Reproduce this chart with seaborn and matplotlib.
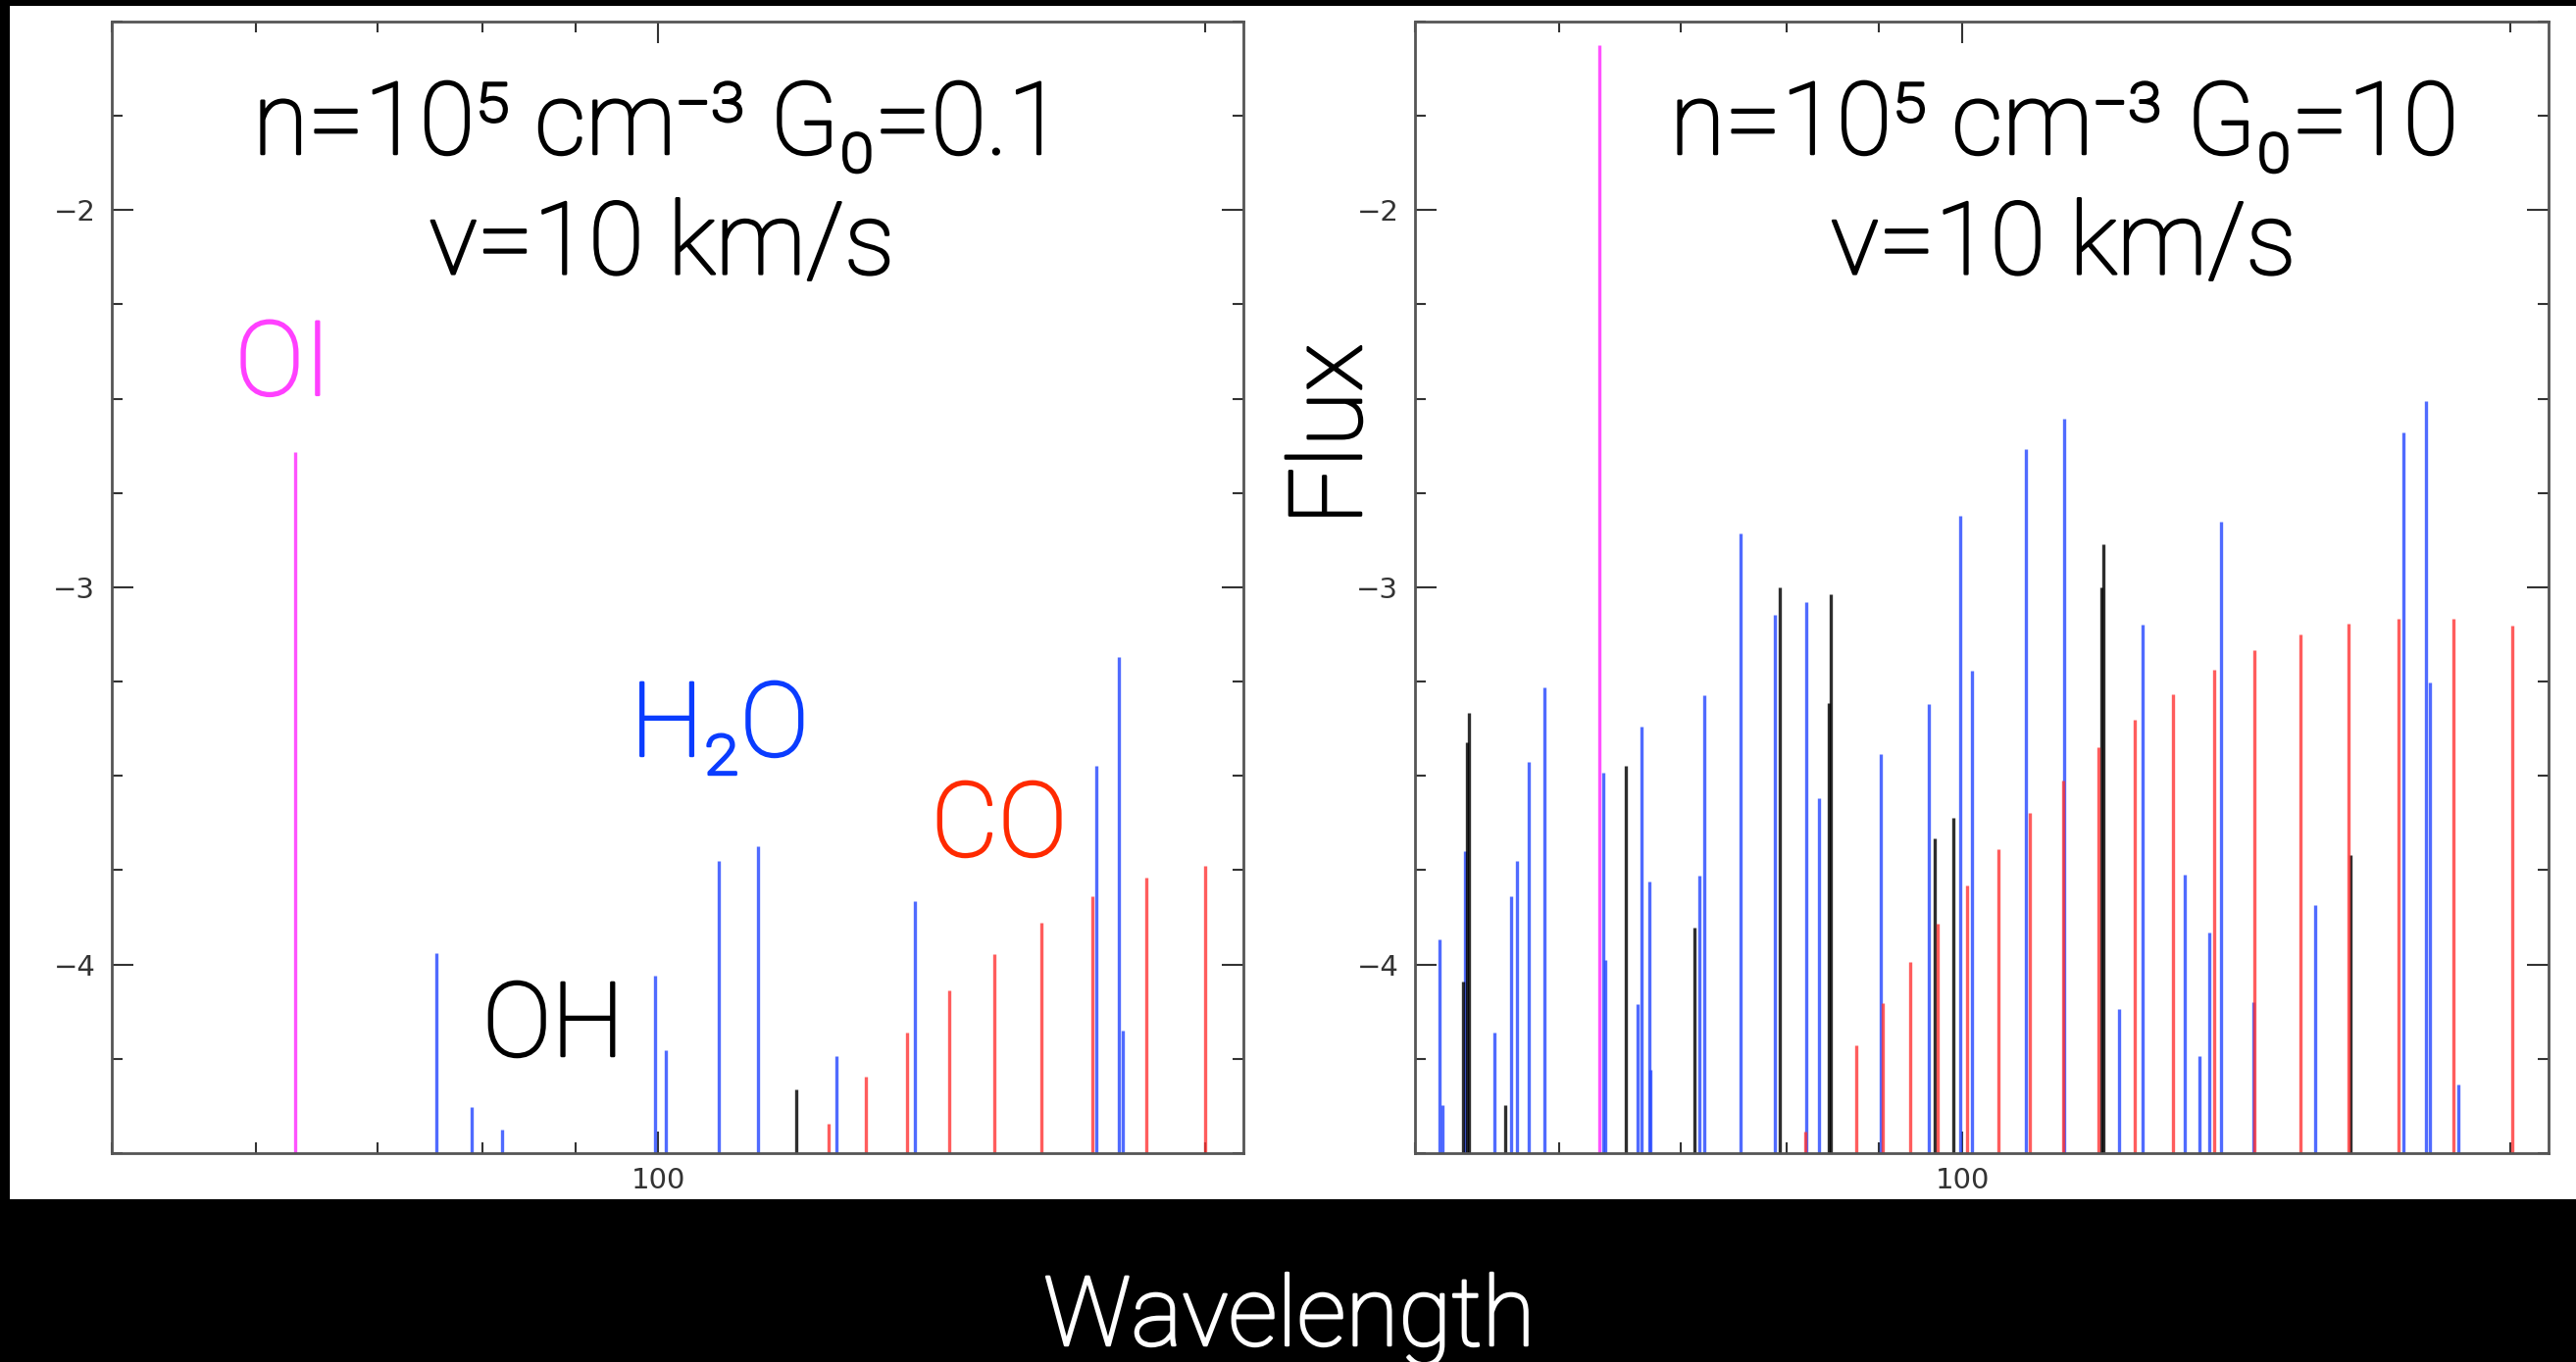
import numpy as np
import pandas as pd
import matplotlib
matplotlib.use("Agg")
import matplotlib.pyplot as plt
import matplotlib.patheffects as pe
import seaborn as sns
from matplotlib.patches import Rectangle
from matplotlib.ticker import FixedLocator, MultipleLocator, FixedFormatter, NullFormatter

# ---------------- data (wavelength in micron, log10 line flux) ----------------
# Left panel: n=1e5 cm-3, G0=0.1, v=10 km/s
left_oi_lam = [63.1]
left_oi_flux = [-2.642]
left_h2o_lam = [75.5, 78.9, 82.0, 99.6, 101.0, 108.0, 113.5, 125.3, 138.4, 174.3, 179.4, 180.2]
left_h2o_flux = [-3.969, -4.377, -4.437, -4.029, -4.228, -3.726, -3.687, -4.243, -3.832, -3.472, -3.185, -4.176]
left_oh_lam = [119.1]
left_oh_flux = [-4.330]
left_co_lam = [124.1, 130.1, 137.1, 144.6, 153.1, 162.5, 173.4, 185.7, 200.0]
left_co_flux = [-4.423, -4.298, -4.180, -4.068, -3.973, -3.890, -3.818, -3.770, -3.739]

# Right panel: n=1e5 cm-3, G0=10, v=10 km/s
right_oi_lam = [63.15]
right_oi_flux = [-1.562]
right_h2o_lam = [51.60, 51.77, 53.24, 55.26, 56.49, 56.89, 57.77, 58.91, 63.46, 63.59, 66.27, 66.60,
                 67.26, 67.37, 71.70, 72.13, 75.5, 78.82, 82.10, 83.40, 90.15, 95.79, 99.72, 101.16,
                 108.29, 113.70, 121.97, 125.64, 132.56, 135.05, 136.61, 138.70, 144.6, 156.35,
                 174.83, 179.82, 180.69, 187.27]
right_h2o_flux = [-3.934, -4.372, -3.70, -4.180, -3.818, -3.726, -3.463, -3.264, -3.492, -3.987, -4.104, -3.370,
                  -3.780, -4.28, -3.765, -3.286, -2.857, -3.074, -3.040, -3.558, -3.443, -3.309, -2.809, -3.222,
                  -2.633, -2.553, -4.118, -3.098, -3.761, -4.242, -3.914, -2.825, -4.10, -3.842,
                  -2.590, -2.505, -3.251, -4.319]
right_oh_lam = [53.13, 53.40, 53.53, 56.08, 65.30, 71.25, 79.37, 84.45, 84.62, 96.58, 98.89, 119.2, 119.49, 163.42]
right_oh_flux = [-4.044, -3.411, -3.334, -4.372, -3.472, -3.902, -3.001, -3.306, -3.017, -3.665, -3.612, -3.00, -2.886, -3.709]
right_co_lam = [81.95, 87.37, 90.39, 93.54, 96.87, 100.53, 104.65, 108.87, 113.6, 118.81, 124.35, 130.49,
                137.46, 144.74, 153.46, 162.93, 173.75, 186.20, 200.45]
right_co_flux = [-4.444, -4.213, -4.103, -3.994, -3.891, -3.790, -3.694, -3.597, -3.511, -3.424, -3.351, -3.284,
                 -3.218, -3.166, -3.126, -3.097, -3.084, -3.084, -3.101]

species_order = ["H2O", "OH", "CO", "OI"]
x_major = [100]
x_major_labels = ["100"]
x_minor = [50, 60, 70, 80, 90, 200]
y_major = [-4, -3, -2]

left_title = ["n=10\u2075 cm\u207b\u00b3 G\u2080=0.1", "v=10 km/s"]
right_title = ["n=10\u2075 cm\u207b\u00b3 G\u2080=10", "v=10 km/s"]

# ---------------- style ----------------
sns.set_theme(style="ticks")
plt.rcParams["font.family"] = ["Roboto", "DejaVu Sans"]

W, H = 2627, 1389
XMIN, XMAX = 50, 210
YMIN, YMAX = -4.5, -1.5

palette = {"H2O": "#2a4bff", "OH": "#000000", "CO": "#ff3030", "OI": "#ff40ff"}
alphas = {"H2O": 0.82, "OH": 0.82, "CO": 0.78, "OI": 0.9}

fig = plt.figure(figsize=(W / 100, H / 100), dpi=100, facecolor="black")
fig.add_artist(Rectangle((10 / W, 1 - 1223 / H), 1 - 10 / W, (1223 - 6) / H,
                         transform=fig.transFigure, facecolor="white", edgecolor="none", zorder=-5))

ax_l = fig.add_axes([114 / W, 1 - 1176 / H, 1154 / W, 1154 / H])
ax_r = fig.add_axes([1443 / W, 1 - 1176 / H, 1156 / W, 1154 / H])


def build_df(spec):
    rows = []
    for sp in species_order:
        lam, flux = spec[sp]
        for i, (l, f) in enumerate(zip(lam, flux)):
            uid = f"{sp}_{i}"
            rows.append({"species": sp, "uid": uid, "wavelength": l, "flux": YMIN})
            rows.append({"species": sp, "uid": uid, "wavelength": l, "flux": f})
    return pd.DataFrame(rows)


def draw_panel(ax, spec):
    ax.set_facecolor("white")
    ax.set_xscale("log")
    df = build_df(spec)
    for sp in species_order:
        sub = df[df["species"] == sp]
        n_before = len(ax.lines)
        sns.lineplot(data=sub, x="wavelength", y="flux", units="uid", estimator=None,
                     color=palette[sp], lw=2.4, sort=False, legend=False, ax=ax)
        for ln in ax.lines[n_before:]:
            ln.set_alpha(alphas[sp])
            ln.set_solid_capstyle("butt")
    ax.set_xlim(XMIN, XMAX)
    ax.set_ylim(YMIN, YMAX)
    ax.set_xlabel("")
    ax.set_ylabel("")
    ax.xaxis.set_major_locator(FixedLocator(x_major))
    ax.xaxis.set_major_formatter(FixedFormatter(x_major_labels))
    ax.xaxis.set_minor_locator(FixedLocator(x_minor))
    ax.xaxis.set_minor_formatter(NullFormatter())
    ax.yaxis.set_major_locator(FixedLocator(y_major))
    ax.yaxis.set_minor_locator(MultipleLocator(0.25))
    ax.tick_params(which="both", direction="in", top=True, right=True, color="#333333", width=1.5)
    ax.tick_params(which="major", length=16)
    ax.tick_params(which="minor", length=8)
    ax.tick_params(axis="y", which="major", pad=12)
    ax.tick_params(axis="x", which="major", pad=10)
    for lab in ax.get_xticklabels() + ax.get_yticklabels():
        lab.set_family("DejaVu Sans")
        lab.set_fontsize(21)
        lab.set_color("#333333")
    for s in ax.spines.values():
        s.set_color("#555555")
        s.set_linewidth(2)
        s.set_visible(True)


draw_panel(ax_l, {"H2O": (left_h2o_lam, left_h2o_flux), "OH": (left_oh_lam, left_oh_flux),
                  "CO": (left_co_lam, left_co_flux), "OI": (left_oi_lam, left_oi_flux)})
draw_panel(ax_r, {"H2O": (right_h2o_lam, right_h2o_flux), "OH": (right_oh_lam, right_oh_flux),
                  "CO": (right_co_lam, right_co_flux), "OI": (right_oi_lam, right_oi_flux)})


def stroke(color):
    return [pe.withStroke(linewidth=1.8, foreground=color)]


big = dict(fontsize=74, fontweight="light")

for ax, title, xs in [(ax_l, left_title, (0.4827, 0.4861)), (ax_r, right_title, (0.5727, 0.5720))]:
    ax.text(xs[0], 0.883, title[0], transform=ax.transAxes, ha="center", va="baseline", color="black",
            path_effects=stroke("black"), **big)
    ax.text(xs[1], 0.777, title[1], transform=ax.transAxes, ha="center", va="baseline", color="black",
            path_effects=stroke("black"), **big)

lab = dict(fontsize=76, fontweight="light", ha="left", va="baseline")
for txt, x, y, c in [("OI", 0.1090, 0.670, "#ff40ff"), ("H\u2082O", 0.4584, 0.351, "#0a3cff"),
                     ("CO", 0.7240, 0.2626, "#ff2a00"), ("OH", 0.3276, 0.0858, "black")]:
    ax_l.text(x, y, txt, transform=ax_l.transAxes, color=c, path_effects=stroke(c), **lab)

fig.text(1388 / W, 1 - 443 / H, "Flux", rotation=90, rotation_mode="anchor", ha="center", va="baseline",
         color="black", path_effects=stroke("black"), **big)
fig.text(1315 / W, 1 - 1372 / H, "Wavelength", ha="center", va="baseline", color="white",
         path_effects=stroke("white"), fontsize=71, fontweight="light")

fig.savefig("out.png", dpi=100, facecolor="black")
